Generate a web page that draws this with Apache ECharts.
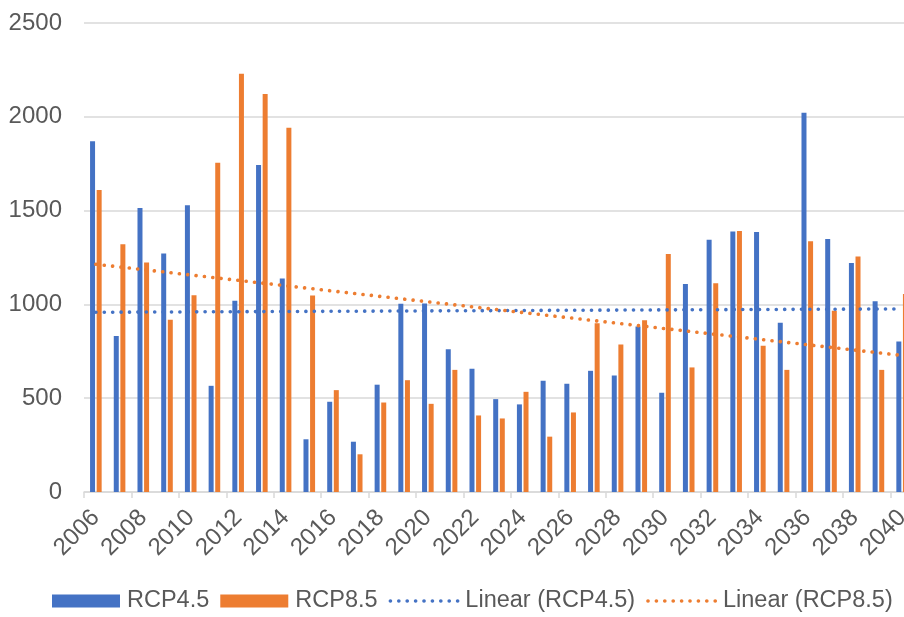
<!DOCTYPE html>
<html>
<head>
<meta charset="utf-8">
<script src="https://cdn.jsdelivr.net/npm/echarts@6/dist/echarts.min.js"></script>
<style>
  html, body { margin: 0; padding: 0; background: #ffffff; }
  #chart { width: 904px; height: 617px; }
</style>
</head>
<body>
<div id="chart"></div>
<script>
// Years on the category axis
const years = ['2006','2007','2008','2009','2010','2011','2012','2013','2014','2015',
               '2016','2017','2018','2019','2020','2021','2022','2023','2024','2025',
               '2026','2027','2028','2029','2030','2031','2032','2033','2034','2035',
               '2036','2037','2038','2039','2040'];

// Annual values per scenario
const rcp45 = [1870, 832, 1514, 1271, 1528, 566, 1019, 1743, 1138, 281,
               481, 268, 572, 1003, 1005, 761, 657, 495, 467, 593,
               577, 646, 621, 882, 529, 1109, 1345, 1388, 1386, 902,
               2021, 1349, 1221, 1017, 802];
const rcp85 = [1610, 1320, 1223, 918, 1049, 1755, 2230, 2122, 1941, 1047,
               543, 201, 477, 596, 470, 651, 408, 392, 534, 295,
               424, 900, 786, 916, 1269, 664, 1113, 1391, 779, 651,
               1336, 966, 1255, 651, 1056];

// Linear trend endpoints (first and last year)
const trend45 = [['2006', 958], ['2040', 976]];
const trend85 = [['2006', 1214], ['2040', 728]];

// Value axis ticks
const yTicks = { min: 0, max: 2500, interval: 500 };

const BLUE = '#4472C4';
const ORANGE = '#ED7D31';
const TEXT = '#595959';
const GRID = '#d9d9d9';
const FONT = 'Liberation Sans, Arial, sans-serif';

const chart = echarts.init(document.getElementById('chart'), null, { renderer: 'canvas' });

const dotted = { type: [0.1, 8.3], cap: 'round', width: 3.6 };

chart.setOption({
  animation: false,
  backgroundColor: '#ffffff',
  textStyle: { fontFamily: FONT },
  grid: {
    left: 84, top: 23, width: 830, height: 469,
    containLabel: false,
    outerBoundsMode: 'none'
  },
  legend: {
    left: 52,
    top: 589,
    width: 900,
    padding: 0,
    itemWidth: 68,
    itemHeight: 13,
    itemGap: 11,
    textStyle: { color: TEXT, fontSize: 23.5, fontFamily: FONT, padding: [0, 0, 0, 2] },
    data: [
      { name: 'RCP4.5', icon: 'rect' },
      { name: 'RCP8.5', icon: 'rect' },
      { name: 'Linear (RCP4.5)', itemStyle: { opacity: 0 }, lineStyle: Object.assign({ color: BLUE }, dotted) },
      { name: 'Linear (RCP8.5)', itemStyle: { opacity: 0 }, lineStyle: Object.assign({ color: ORANGE }, dotted) }
    ]
  },
  xAxis: {
    type: 'category',
    data: years,
    boundaryGap: true,
    axisLine: { lineStyle: { color: GRID, width: 1.5 } },
    axisTick: { show: true, interval: 1, length: 6, lineStyle: { color: GRID, width: 1.5 } },
    axisLabel: {
      interval: 1,
      rotate: 45,
      margin: 22,
      color: TEXT,
      fontSize: 24,
      fontFamily: FONT
    },
    splitLine: { show: false }
  },
  yAxis: {
    type: 'value',
    min: yTicks.min,
    max: yTicks.max,
    interval: yTicks.interval,
    axisLine: { show: false },
    axisTick: { show: false },
    axisLabel: { color: TEXT, fontSize: 24, fontFamily: FONT, margin: 22, formatter: (v) => String(v) },
    splitLine: { lineStyle: { color: GRID, width: 1.5 } }
  },
  series: [
    {
      name: 'RCP4.5',
      type: 'bar',
      data: rcp45,
      barWidth: 5,
      barGap: '32%',
      itemStyle: { color: BLUE }
    },
    {
      name: 'RCP8.5',
      type: 'bar',
      data: rcp85,
      barWidth: 5,
      barGap: '32%',
      itemStyle: { color: ORANGE }
    },
    {
      name: 'Linear (RCP4.5)',
      type: 'line',
      data: trend45,
      symbol: 'none',
      z: 5,
      itemStyle: { color: BLUE },
      lineStyle: Object.assign({ color: BLUE }, dotted)
    },
    {
      name: 'Linear (RCP8.5)',
      type: 'line',
      data: trend85,
      symbol: 'none',
      z: 5,
      itemStyle: { color: ORANGE },
      lineStyle: Object.assign({ color: ORANGE }, dotted)
    }
  ]
});
</script>
</body>
</html>
